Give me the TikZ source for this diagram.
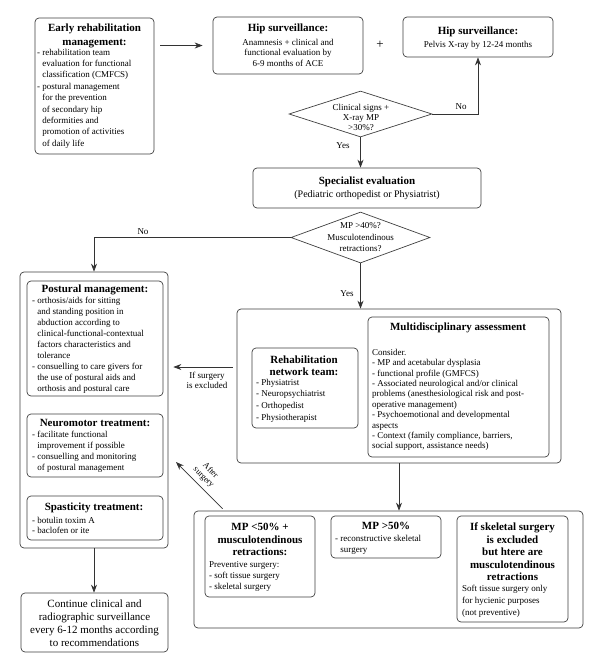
\documentclass[tikz,border=0pt]{standalone}
\usepackage{fontspec}
\setmainfont{Liberation Serif}
\usetikzlibrary{shapes.geometric,arrows.meta,calc}
\newcommand{\hg}{\phantom{- }}
\tikzset{
 box/.style={draw=black!75, line width=0.7pt, rounded corners=4pt, inner sep=0pt, fill=white},
 ttl/.style={font=\fontsize{11}{13.5}\selectfont\bfseries, align=center, inner sep=0pt},
 bdy/.style={font=\fontsize{9}{11}\selectfont, align=left, inner sep=0pt, anchor=west},
 ctr/.style={font=\fontsize{9}{10.5}\selectfont, align=center, inner sep=0pt},
 arr/.style={draw=black!80, line width=0.7pt, -{Stealth[length=8pt,width=6pt]}},
 dia/.style={draw=black!75, line width=0.7pt, diamond, inner sep=0pt, fill=white},
}
\begin{document}
\begin{tikzpicture}[x=1pt,y=-1pt]
\useasboundingbox[fill=white] (0,0) rectangle (594,657);

% ---------- boxes ----------
\node[box, minimum width=119pt, minimum height=136pt] (early) at (94.5,86) {};
\node[box, minimum width=150pt, minimum height=57pt] (hip1) at (288,45.5) {};
\node[box, minimum width=150pt, minimum height=40pt] (hip2) at (478,37) {};
\node[box, minimum width=228pt, minimum height=40pt] (spec) at (367,188) {};
\node[box, minimum width=148pt, minimum height=276pt] (lout) at (94,410) {};
\node[box, minimum width=136pt, minimum height=115pt] (post) at (95,338.5) {};
\node[box, minimum width=136pt, minimum height=63pt] (neuro) at (95,445.5) {};
\node[box, minimum width=136pt, minimum height=44pt] (spas) at (95,518) {};
\node[box, minimum width=147pt, minimum height=59pt] (cont) at (94.5,622.5) {};
\node[box, minimum width=324pt, minimum height=154pt] (mout) at (399,386) {};
\node[box, minimum width=106pt, minimum height=80pt] (rnt) at (305,388) {};
\node[box, minimum width=181pt, minimum height=140pt] (mas) at (458.5,387) {};
\node[box, minimum width=389pt, minimum height=117pt] (sout) at (388.5,569.5) {};
\node[box, minimum width=110pt, minimum height=81pt] (mpl) at (260,556.5) {};
\node[box, minimum width=110pt, minimum height=42pt] (mpg) at (386,537) {};
\node[box, minimum width=111pt, minimum height=106pt] (skel) at (512.5,569) {};

\node[dia, minimum width=143pt, minimum height=46pt] (d1) at (360.5,114) {};
\node[dia, minimum width=139pt, minimum height=51pt] (d2) at (360.5,237.5) {};

% ---------- texts ----------
\node[ttl, font=\fontsize{11}{14}\selectfont\bfseries] (tearly) at (94.5,36) {Early rehabilitation\\management:};
\node[bdy, font=\fontsize{9}{11.4}\selectfont] (bearly) at (37,98.5) {- rehabilitation team\\\hg evaluation for functional\\\hg classification (CMFCS)\\- postural management\\\hg for the prevention\\\hg of secondary hip\\\hg deformities and\\\hg promotion of activities\\\hg of daily life};

\node[ttl] (thip1) at (288,29) {Hip surveillance:};
\node[ctr] (bhip1) at (288,52.5) {Anamnesis + clinical and\\functional evaluation by\\6-9 months of ACE};
\node[ttl] (thip2) at (478,32) {Hip surveillance:};
\node[ctr] (bhip2) at (478,45) {Pelvis X-ray by 12-24 months};
\node[inner sep=0pt, font=\fontsize{13}{13}\selectfont] (plus) at (380,45) {+};

\node[ctr, font=\fontsize{9}{10}\selectfont] (td1) at (361,117) {Clinical signs +\\X-ray MP\\>30\%?};
\node[ttl, font=\fontsize{11}{13}\selectfont\bfseries] (tspec) at (367,182) {Specialist evaluation};
\node[ctr, font=\fontsize{10}{12}\selectfont] (bspec) at (367,195.5) {(Pediatric orthopedist or Physiatrist)};
\node[ctr, font=\fontsize{9}{11.5}\selectfont] (td2) at (360.5,237.5) {MP >40\%?\\Musculotendinous\\retractions?};

\node[ctr] (no1) at (461,107) {No};
\node[ctr] (yes1) at (343,146) {Yes};
\node[ctr] (no2) at (143,232) {No};
\node[ctr] (yes2) at (347,294) {Yes};

\node[ttl] (tpost) at (95,290) {Postural management:};
\node[bdy] (bpost) at (32,345) {- orthosis/aids for sitting\\\hg and standing position in\\\hg abduction according to\\\hg clinical-functional-contextual\\\hg factors characteristics and\\\hg tolerance\\- consuelling to care givers for\\\hg the use of postural aids and\\\hg orthosis and postural care};
\node[ttl] (tneuro) at (95,423) {Neuromotor treatment:};
\node[bdy] (bneuro) at (32,452) {- facilitate functional\\\hg improvement if possible\\- consuelling and monitoring\\\hg of postural management};
\node[ttl] (tspas) at (94,508) {Spasticity treatment:};
\node[bdy, font=\fontsize{9}{10}\selectfont] (bspas) at (32,525) {- botulin toxim A\\- baclofen or ite};
\node[ctr, font=\fontsize{11}{13}\selectfont] (tcont) at (94.5,623) {Continue clinical and\\radiographic surveillance\\every 6-12 months according\\to recommendations};

\node[ttl, font=\fontsize{11}{12.5}\selectfont\bfseries] (trnt) at (304,366) {Rehabilitation\\network team:};
\node[bdy, font=\fontsize{9}{11.7}\selectfont] (brnt) at (256,400.5) {- Physiatrist\\- Neuropsychiatrist\\- Orthopedist\\- Physiotherapist};
\node[ttl] (tmas) at (458,328) {Multidisciplinary assessment};
\node[bdy, font=\fontsize{9}{10.4}\selectfont] (bmas) at (372,400) {Consider.\\- MP and acetabular dysplasia\\- functional profile (GMFCS)\\- Associated neurological and/or clinical\\problems (anesthesiological risk and post-\\operative management)\\- Psychoemotional and developmental\\aspects\\- Context (family compliance, barriers,\\social support, assistance needs)};

\node[ctr, font=\fontsize{9}{10}\selectfont] (lifs) at (207,380) {If surgery\\is excluded};
\node[ctr, font=\fontsize{8.5}{9.5}\selectfont, rotate=-45] (las) at (207,474) {After\\surgery};

\node[ttl, font=\fontsize{11}{12.5}\selectfont\bfseries] (tmpl) at (260,539.5) {MP <50\% +\\musculotendinous\\retractions:};
\node[bdy] (bmpl) at (209,576) {Preventive surgery:\\- soft tissue surgery\\- skeletal surgery};
\node[ttl] (tmpg) at (386,526) {MP >50\%};
\node[bdy] (bmpg) at (335,544.5) {- reconstructive skeletal\\\hg surgery};
\node[ttl, font=\fontsize{11}{12.5}\selectfont\bfseries] (tskel) at (512.5,552) {If skeletal surgery\\is excluded\\but htere are\\musculotendinous\\retractions};
\node[bdy, font=\fontsize{9}{12}\selectfont] (bskel) at (462,601) {Soft tissue surgery only\\for hycienic purposes\\(not preventive)};

% ---------- connectors ----------
\coordinate (yif) at (200,367);
\coordinate (asend) at (176,462);
\draw[arr, shorten <=6pt, shorten >=10pt] (early.east |- hip1.west) -- (hip1.west);
\draw[arr] (d1.east) -| (hip2.south);
\draw[arr] (d1.south) -- (d1.south |- spec.north);
\draw[arr] (d2.west) -| (lout.north);
\draw[arr] (d2.south) -- (d2.south |- mout.north);
\draw[arr] (lout.south) -- (lout.south |- cont.north);
\draw[arr] (mout.south) -- (mout.south |- sout.north);
\draw[arr, shorten <=4pt, shorten >=5pt] (mout.west |- yif) -- (lout.east |- yif);
\draw[arr] ($(sout.north west)+(29,-2)$) -- (asend);
\end{tikzpicture}
\end{document}
